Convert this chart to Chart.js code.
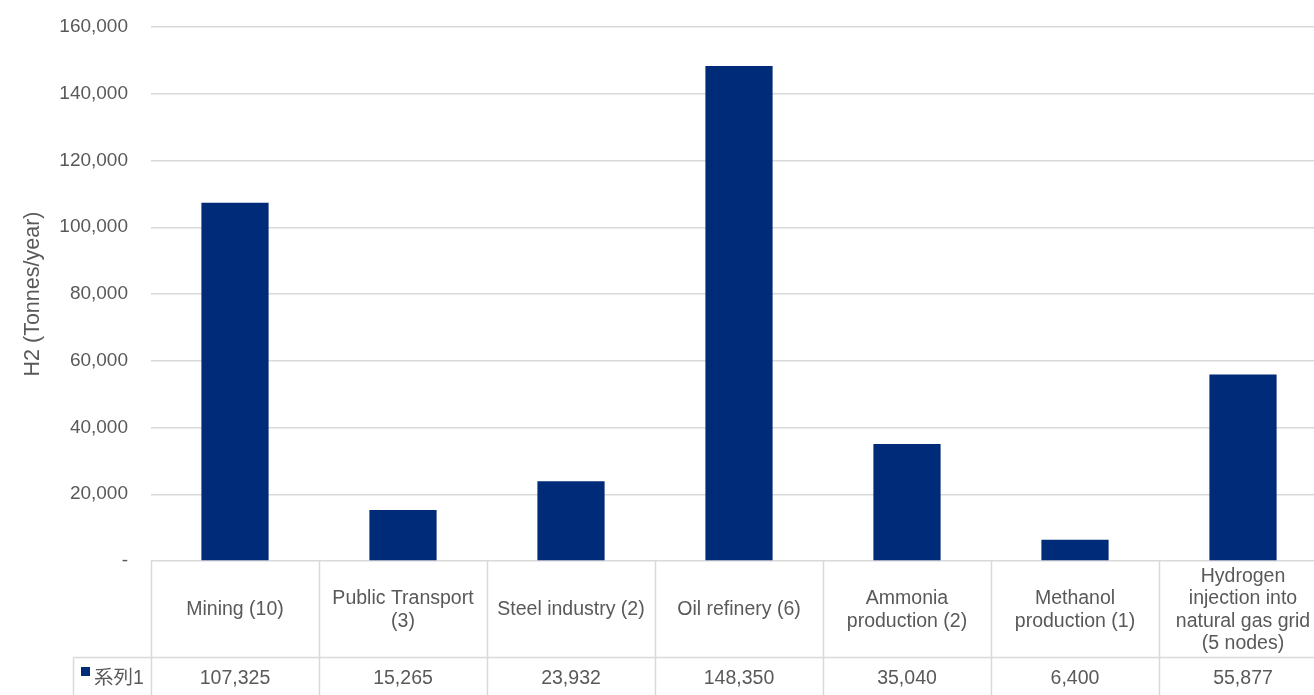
<!DOCTYPE html>
<html>
<head>
<meta charset="utf-8">
<script src="https://cdn.jsdelivr.net/npm/chart.js@4"></script>
<style>
  html, body { margin: 0; padding: 0; background: #ffffff; overflow: hidden; }
  #wrap { width: 1314px; height: 695px; overflow: hidden; }
  canvas { display: block; }
</style>
</head>
<body>
<div id="wrap"><canvas id="c" width="1330" height="695"></canvas></div>
<script>
const categories = [
  ['Mining (10)'],
  ['Public Transport', '(3)'],
  ['Steel industry (2)'],
  ['Oil refinery (6)'],
  ['Ammonia', 'production (2)'],
  ['Methanol', 'production (1)'],
  ['Hydrogen', 'injection into', 'natural gas grid', '(5 nodes)']
];
const seriesName = '系列1';
const values = [107325, 15265, 23932, 148350, 35040, 6400, 55877];
const yAxisTitle = 'H2 (Tonnes/year)';
const yMax = 160000;
const yStep = 20000;

const FONT = '"Liberation Sans", Arial, "Noto Sans CJK JP", sans-serif';
const TEXT = '#595959';
const GRID = '#d9d9d9';
const BAR = '#002b78';

const fmt = v => v === 0 ? '-' : v.toLocaleString('en-US');

const tablePlugin = {
  id: 'dataTable',
  afterDraw(chart) {
    const ctx = chart.ctx;
    const xs = chart.scales.x;
    const area = chart.chartArea;
    const top = area.bottom;
    const headerH = 96;
    const rowTop = top + headerH;
    const bottom = chart.height + 2;
    const n = categories.length;
    const colW = (area.right - area.left) / n;
    const keyLeft = 73;
    ctx.save();
    ctx.strokeStyle = GRID;
    ctx.lineWidth = 1.5;
    ctx.beginPath();
    for (let i = 0; i <= n; i++) {
      const x = Math.round(area.left + i * colW) + 0.5;
      ctx.moveTo(x, top);
      ctx.lineTo(x, bottom);
    }
    ctx.moveTo(keyLeft + 0.5, Math.round(rowTop) + 0.5);
    ctx.lineTo(area.right, Math.round(rowTop) + 0.5);
    ctx.moveTo(keyLeft + 0.5, Math.round(rowTop) + 0.5);
    ctx.lineTo(keyLeft + 0.5, bottom);
    ctx.stroke();

    ctx.fillStyle = TEXT;
    ctx.font = '19.5px ' + FONT;
    ctx.textAlign = 'center';
    ctx.textBaseline = 'middle';
    const lh = 22.5;
    categories.forEach((lines, i) => {
      const cx = xs.getPixelForValue(i);
      const cy = top + headerH / 2 + 1;
      const y0 = cy - (lines.length - 1) * lh / 2;
      lines.forEach((t, k) => ctx.fillText(t, cx, y0 + k * lh));
      ctx.fillText(fmt(values[i]), cx, rowTop + 22);
    });
    ctx.fillStyle = BAR;
    ctx.fillRect(81, rowTop + 10, 9, 9);
    ctx.fillStyle = TEXT;
    ctx.textAlign = 'left';
    ctx.fillText(seriesName, 94, rowTop + 22);
    ctx.restore();
  }
};

new Chart(document.getElementById('c'), {
  type: 'bar',
  data: {
    labels: categories,
    datasets: [{
      label: seriesName,
      data: values,
      backgroundColor: BAR,
      borderWidth: 0,
      categoryPercentage: 1.0,
      barPercentage: 0.4
    }]
  },
  options: {
    responsive: false,
    animation: false,
    devicePixelRatio: 1,
    layout: { padding: { top: 27, bottom: 134, left: 0, right: 3 } },
    plugins: {
      legend: { display: false },
      tooltip: { enabled: false }
    },
    scales: {
      x: {
        display: false,
        offset: true
      },
      y: {
        min: 0,
        max: yMax,
        afterFit(scale) { scale.width = 151; },
        ticks: {
          stepSize: yStep,
          padding: 0,
          color: TEXT,
          font: { family: FONT, size: 19 },
          callback: v => fmt(v)
        },
        grid: {
          color: GRID,
          lineWidth: 1.5,
          drawTicks: true,
          tickLength: 23,
          tickColor: 'rgba(0,0,0,0)'
        },
        border: { display: false },
        title: {
          display: true,
          text: yAxisTitle,
          color: TEXT,
          font: { family: FONT, size: 21.5 },
          padding: { top: 20, bottom: 0 }
        }
      }
    }
  },
  plugins: [tablePlugin]
});
</script>
</body>
</html>
